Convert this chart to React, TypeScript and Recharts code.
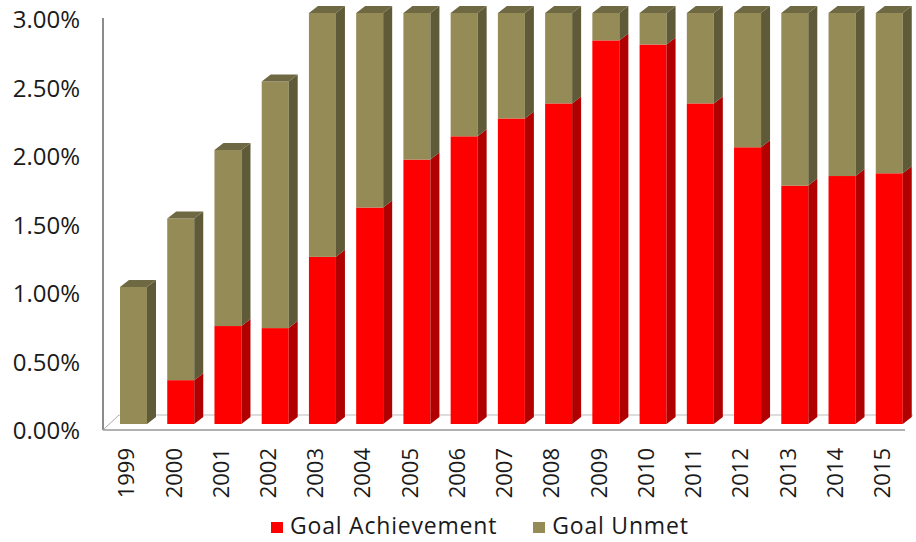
// App.tsx
// Stacked 3D-style bars: goal achievement vs goal unmet, 1999-2015.
import { BarChart, Bar, XAxis, YAxis } from "recharts";

const YEARS = [
  "1999", "2000", "2001", "2002", "2003", "2004", "2005", "2006", "2007",
  "2008", "2009", "2010", "2011", "2012", "2013", "2014", "2015",
];
const ACHIEVED = [
  0, 0.32, 0.715, 0.7, 1.22, 1.58, 1.93, 2.1, 2.23,
  2.34, 2.8, 2.77, 2.34, 2.02, 1.74, 1.81, 1.83,
];
const UNMET = [
  1.0, 1.18, 1.285, 1.8, 1.78, 1.42, 1.07, 0.9, 0.77,
  0.66, 0.2, 0.23, 0.66, 0.98, 1.26, 1.19, 1.17,
];
const Y_TICKS = [0, 0.5, 1, 1.5, 2, 2.5, 3];

const W = 916;
const H = 542;
const FONT = "'Open Sans', sans-serif";
const DEPTH_X = 9;
const DEPTH_Y = 7;

const RED = { front: "#ff0000", side: "#b00000", top: "#c40000" };
const TAN = { front: "#958b56", side: "#5f5b38", top: "#6e6843" };

const data = YEARS.map((year, i) => ({
  year,
  achieved: ACHIEVED[i],
  unmet: UNMET[i],
}));

function make3DShape(colors: { front: string; side: string; top: string }, withTop: boolean) {
  return (props: any) => {
    const { x, y, width, height } = props;
    if (!height || height <= 0) return <g />;
    const r = x + width;
    const b = y + height;
    return (
      <g>
        <rect x={x} y={y} width={width} height={height} fill={colors.front} />
        <polygon
          points={`${r},${y} ${r + DEPTH_X},${y - DEPTH_Y} ${r + DEPTH_X},${b - DEPTH_Y} ${r},${b}`}
          fill={colors.side}
        />
        {withTop && (
          <polygon
            points={`${x},${y} ${x + DEPTH_X},${y - DEPTH_Y} ${r + DEPTH_X},${y - DEPTH_Y} ${r},${y}`}
            fill={colors.top}
          />
        )}
      </g>
    );
  };
}

const YTick = (props: any) => {
  const { x, y, payload } = props;
  return (
    <text x={x} y={y + 7} dy="0.35em" textAnchor="end" fontSize={24} fill="#1a1a1a" fontFamily={FONT}>
      {payload.value.toFixed(2) + "%"}
    </text>
  );
};

const XTick = (props: any) => {
  const { x, y, payload } = props;
  return (
    <text
      transform={`translate(${x - 7},${y + 24}) rotate(-90)`}
      dy="0.35em"
      textAnchor="end"
      fontSize={22}
      fill="#1a1a1a"
      fontFamily={FONT}
    >
      {payload.value}
    </text>
  );
};

// plot area edges (from the chart margins below)
const PLOT_LEFT = 103;
const PLOT_RIGHT = W - 3;
const PLOT_TOP = 13;
const PLOT_BOTTOM = 424;

function Floor() {
  return (
    <svg width={W} height={H} style={{ position: "absolute", left: 0, top: 0 }}>
      <line x1={PLOT_LEFT} y1={PLOT_TOP + 5} x2={PLOT_LEFT} y2={PLOT_BOTTOM + 6} stroke="#666" strokeWidth={1.5} />
      <line x1={PLOT_LEFT} y1={PLOT_BOTTOM + 6} x2={PLOT_RIGHT - 8} y2={PLOT_BOTTOM + 6} stroke="#999" strokeWidth={1.5} />
      <line x1={PLOT_LEFT} y1={PLOT_BOTTOM + 6} x2={PLOT_LEFT + 16} y2={PLOT_BOTTOM - 9} stroke="#aaa" />
      <line x1={PLOT_LEFT + 16} y1={PLOT_BOTTOM - 9} x2={PLOT_RIGHT} y2={PLOT_BOTTOM - 9} stroke="#bbb" />
    </svg>
  );
}

function LegendItem({ color, label }: { color: string; label: string }) {
  return (
    <div style={{ display: "flex", alignItems: "center" }}>
      <span style={{ width: 12, height: 11, background: color, marginRight: 7, marginTop: 4 }} />
      <span>{label}</span>
    </div>
  );
}

export default function App() {
  return (
    <div style={{ position: "absolute", left: 0, top: 0, width: W, height: H, background: "#fff" }}>
      <Floor />
      <div style={{ position: "absolute", left: 0, top: 0 }}>
        <BarChart width={W} height={H} data={data} margin={{ top: PLOT_TOP, right: 3, left: 0, bottom: 0 }}>
          <XAxis
            dataKey="year"
            height={H - PLOT_BOTTOM}
            axisLine={false}
            tickLine={false}
            tickSize={0}
            tickMargin={0}
            interval={0}
            padding={{ left: 7, right: 0 }}
            tick={<XTick />}
          />
          <YAxis
            width={PLOT_LEFT}
            domain={[0, 3]}
            ticks={Y_TICKS}
            axisLine={false}
            tickLine={false}
            tickSize={0}
            tickMargin={23}
            tick={<YTick />}
          />
          <Bar dataKey="achieved" stackId="a" barSize={27} isAnimationActive={false} shape={make3DShape(RED, false)} />
          <Bar dataKey="unmet" stackId="a" barSize={27} isAnimationActive={false} shape={make3DShape(TAN, true)} />
        </BarChart>
      </div>
      <div
        style={{
          position: "absolute",
          left: 271,
          top: 510,
          display: "flex",
          gap: 36,
          fontFamily: FONT,
          fontSize: 23,
          letterSpacing: 0.8,
          color: "#1a1a1a",
          lineHeight: "31px",
        }}
      >
        <LegendItem color={RED.front} label="Goal Achievement" />
        <LegendItem color={TAN.front} label="Goal Unmet" />
      </div>
    </div>
  );
}
